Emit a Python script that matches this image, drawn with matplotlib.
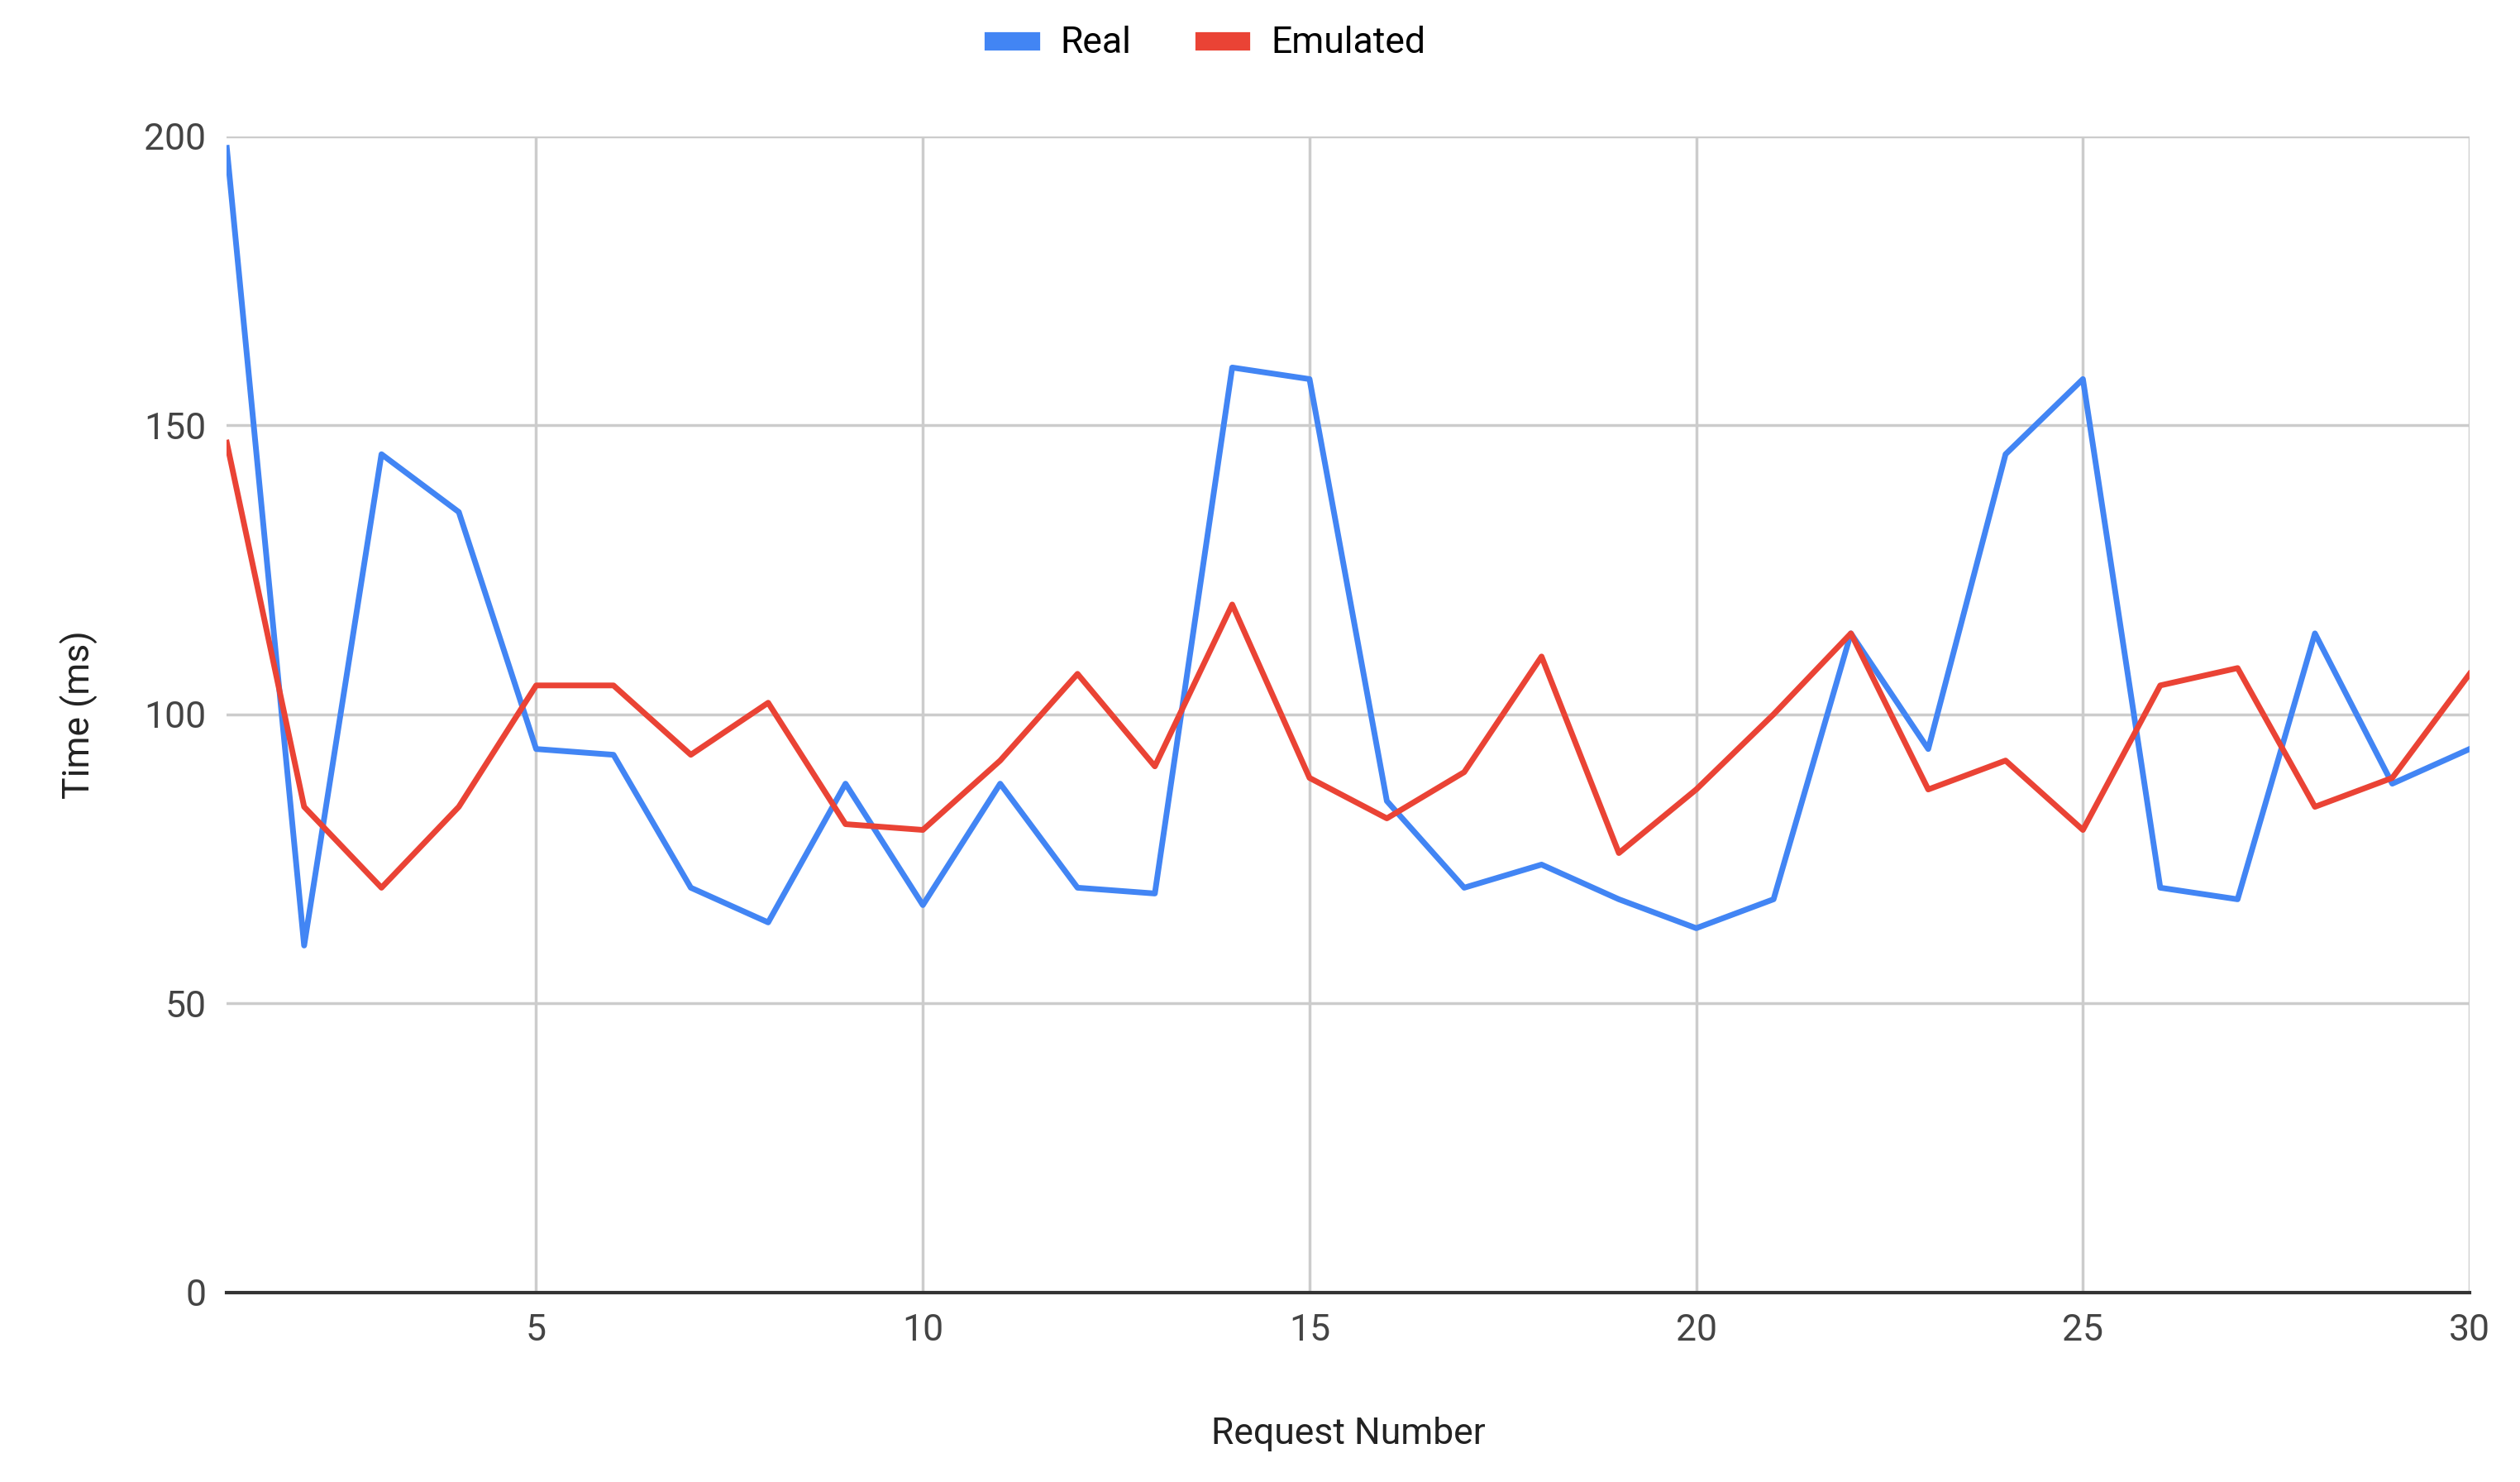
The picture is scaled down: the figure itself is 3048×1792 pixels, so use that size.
import matplotlib
matplotlib.use("Agg")
import matplotlib.pyplot as plt

requests = list(range(1, 31))
real = [198, 60, 145, 135, 94, 93, 70, 64, 88, 67, 88, 70, 69, 160, 158, 85, 70, 74, 68, 63, 68, 114, 94, 145, 158, 70, 68, 114, 88, 94]
emulated = [147, 84, 70, 84, 105, 105, 93, 102, 81, 80, 92, 107, 91, 119, 89, 82, 90, 110, 76, 87, 100, 114, 87, 92, 80, 105, 108, 84, 89, 107]
xticks = [5, 10, 15, 20, 25, 30]
yticks = [0, 50, 100, 150, 200]

plt.rcParams['font.family'] = ['Roboto', 'DejaVu Sans']
fig = plt.figure(figsize=(30.48, 17.92), dpi=100)
ax = fig.add_axes([0.09, 0.128, 0.89, 0.78])
ax.plot(requests, real, color='#4285F4', lw=5, label='Real', zorder=3)
ax.plot(requests, emulated, color='#EA4335', lw=5, label='Emulated', zorder=3)
ax.set_xlim(1, 30)
ax.set_ylim(0, 200)
ax.set_xticks(xticks)
ax.set_yticks(yticks)
ax.grid(True, color='#cccccc', lw=2.5)
for s in ['top', 'right', 'left']:
    ax.spines[s].set_visible(False)
ax.spines['bottom'].set_color('#333333')
ax.spines['bottom'].set_linewidth(3)
ax.tick_params(length=0, labelsize=32, colors='#444444', pad=18)
ax.set_xlabel('Request Number', fontsize=32, color='#222222', labelpad=60)
ax.set_ylabel('Time (ms)', fontsize=32, color='#222222', labelpad=40)
leg = ax.legend(loc='upper center', bbox_to_anchor=(0.48, 1.0), bbox_transform=fig.transFigure,
                ncol=2, frameon=False, fontsize=32, handlelength=1.0, handleheight=0.5,
                columnspacing=2.0, borderaxespad=0.3)
for h in leg.get_lines():
    h.set_linewidth(16)
fig.savefig('out.png', dpi=100)
